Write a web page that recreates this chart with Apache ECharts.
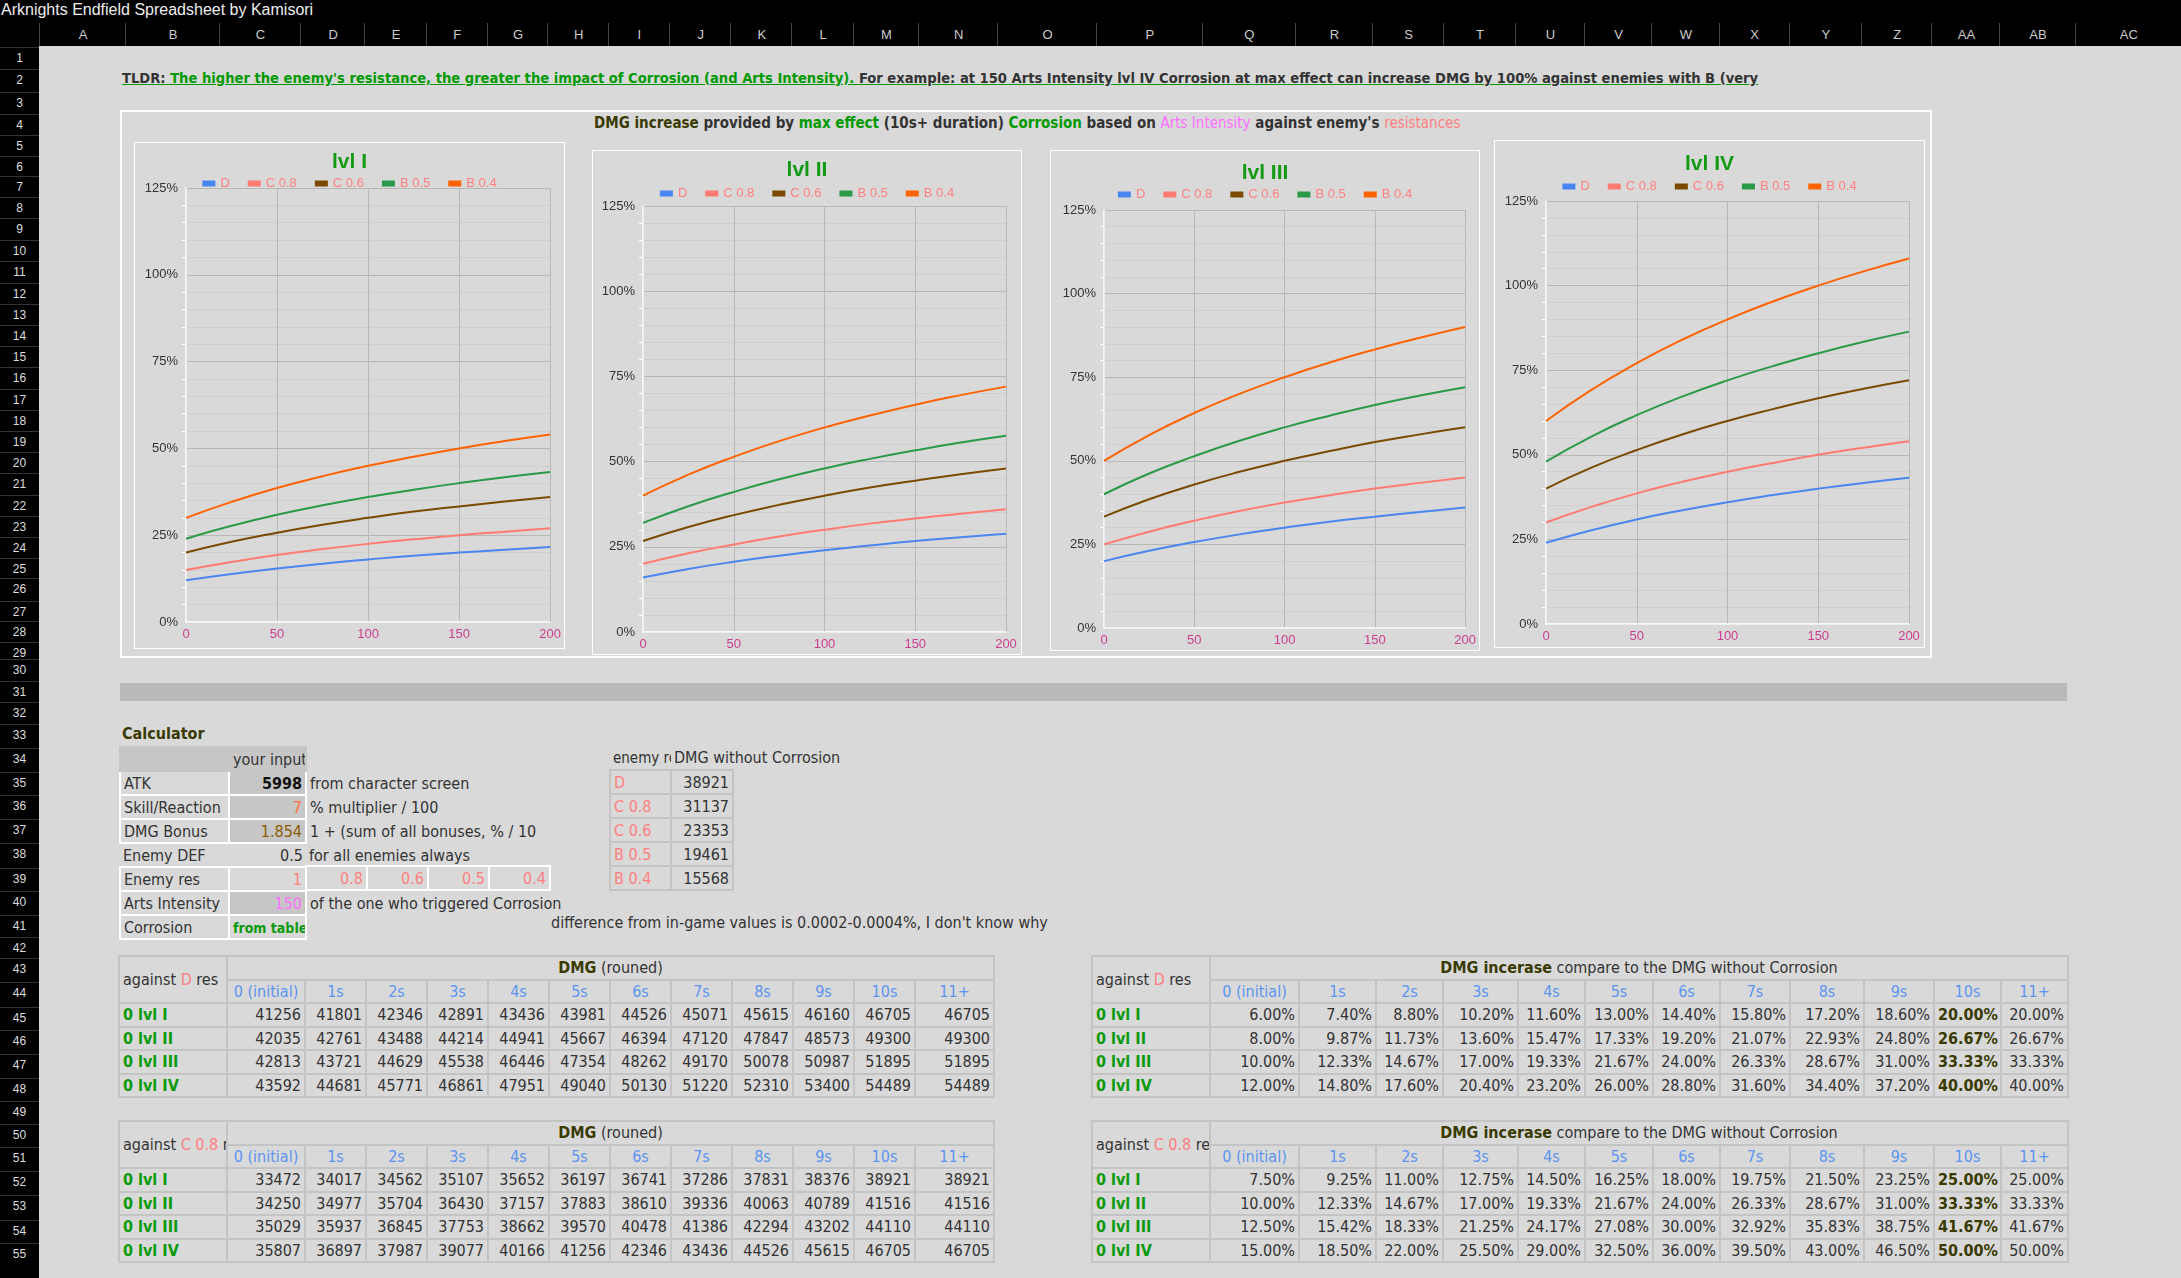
<!DOCTYPE html>
<html>
<head>
<meta charset="utf-8">
<script src="https://cdn.jsdelivr.net/npm/echarts@6/dist/echarts.min.js"></script>
<style>
  body { margin: 0; width: 2181px; height: 1278px; background: #d9d9d9; overflow: hidden;
         font-family: "DejaVu Sans Condensed", "DejaVu Sans", sans-serif; position: relative; }
  .abs { position: absolute; }
  #titlebar { left: 0; top: 0; width: 2181px; height: 23px; background: #000; color: #eee;
              font-family: "Liberation Sans", Arial, sans-serif; font-size: 16px; line-height: 20px; padding-left: 1px; }
  #colhead { left: 0; top: 23px; width: 2181px; height: 23px; background: #000; }
  .colL { position: absolute; top: 23px; height: 23px; line-height: 23px; color: #ccc; font-size: 13px;
          font-family: "Liberation Sans", Arial; text-align: center; border-left: 1px solid #444; }
  #rowhead { left: 0; top: 46px; width: 39px; height: 1232px; background: #000; }
  .rowN { position: absolute; left: 0; width: 39px; text-align: center; color: #ddd; font-size: 12px;
          font-family: "Liberation Sans", Arial; border-top: 1px solid #333; }
  .chartbox { position: absolute; border: 1px solid #fff; box-sizing: border-box; }
  #panel { left: 120px; top: 110px; width: 1812px; height: 548px; border: 2px solid #fff; box-sizing: border-box; }
  .txt { position: absolute; white-space: nowrap; font-size: 16px; color: #333; }
  table.grid { position: absolute; border-collapse: collapse; table-layout: fixed; font-size: 16px; color: #333; }
  table.grid td { border: 2px solid #c4c4c4; padding: 0 3px; height: 20px; overflow: hidden; white-space: nowrap; }
  .num { text-align: right; }
  .blue { color: #5b95f0; text-align: center; }
  .lbl { color: #0a9a0a; font-weight: bold; }
  .hl { color: #3a3a00; font-weight: bold; }
  .pink { color: #ff7f7f; }
</style>
</head>
<body>
<div id="titlebar" class="abs">Arknights Endfield Spreadsheet by Kamisori</div>
<div id="colhead" class="abs"></div>
<div id="rowhead" class="abs"></div>
<div id="panel" class="abs"></div>

<div class="txt" style="left:122px;top:69px;font-weight:bold;color:#009900;text-decoration:underline;font-size:14.6px">
  <span style="color:#333">TLDR:</span> The higher the enemy's resistance, the greater the impact of Corrosion (and Arts Intensity). <span style="color:#333">For example: at 150 Arts Intensity lvl IV Corrosion at max effect can increase DMG by 100% against enemies with B (very</span>
</div>
<div class="txt" style="left:594px;top:114px;font-weight:bold;font-size:15px">
  <span style="color:#3a3a00">DMG increase</span> provided by <span style="color:#009900">max effect</span> (10s+ duration) <span style="color:#009900">Corrosion</span> based on <span style="color:#ff70ff;font-weight:normal">Arts Intensity</span> against enemy's <span style="color:#ff8080;font-weight:normal">resistances</span>
</div>

<div class="abs" style="left:120px;top:683px;width:1947px;height:18px;background:#bababa"></div>
<div class="txt" style="left:122px;top:724px;font-weight:bold;color:#3a3a00">Calculator</div>
<div class="txt" style="left:551px;top:913px">difference from in-game values is 0.0002-0.0004%, I don't know why</div>

<div id="c1" class="chartbox" style="left:134px;top:142px;width:431px;height:507px"></div>
<div id="c2" class="chartbox" style="left:592px;top:150px;width:430px;height:505px"></div>
<div id="c3" class="chartbox" style="left:1050px;top:150px;width:430px;height:501px"></div>
<div id="c4" class="chartbox" style="left:1494px;top:140px;width:431px;height:508px"></div>

<script>
// ---- chart data (Arts Intensity on x, DMG increase % on y) ----
const artsIntensity = [0, 25, 50, 75, 100, 125, 150, 175, 200];
const resNames = ['D', 'C 0.8', 'C 0.6', 'B 0.5', 'B 0.4'];
const resColors = ['#4a86f0', '#ff7b72', '#7a4a00', '#2a9a48', '#ff6200'];

const lvl1 = [
  [12, 13.8, 15.4, 16.8, 18, 19.1, 20, 20.8, 21.6],
  [15, 17.3, 19.3, 21, 22.5, 23.8, 25, 26, 27],
  [20, 23.1, 25.7, 28, 30, 31.8, 33.3, 34.7, 36],
  [24, 27.7, 30.9, 33.6, 36, 38.1, 40, 41.7, 43.2],
  [30, 34.6, 38.6, 42, 45, 47.6, 50, 52.1, 54]
];
const lvl2 = [
  [16, 18.5, 20.6, 22.4, 24, 25.4, 26.7, 27.8, 28.8],
  [20, 23.1, 25.7, 28, 30, 31.8, 33.3, 34.7, 36],
  [26.7, 30.8, 34.3, 37.3, 40, 42.4, 44.4, 46.3, 48],
  [32, 36.9, 41.1, 44.8, 48, 50.8, 53.3, 55.6, 57.6],
  [40, 46.2, 51.4, 56, 60, 63.5, 66.7, 69.5, 72]
];
const lvl3 = [
  [20, 23.1, 25.7, 28, 30, 31.8, 33.3, 34.7, 36],
  [25, 28.8, 32.1, 35, 37.5, 39.7, 41.7, 43.4, 45],
  [33.3, 38.5, 42.9, 46.7, 50, 52.9, 55.6, 57.9, 60],
  [40, 46.2, 51.4, 56, 60, 63.5, 66.7, 69.5, 72],
  [50, 57.7, 64.3, 70, 75, 79.4, 83.3, 86.8, 90]
];
const lvl4 = [
  [24, 27.7, 30.9, 33.6, 36, 38.1, 40, 41.7, 43.2],
  [30, 34.6, 38.6, 42, 45, 47.6, 50, 52.1, 54],
  [40, 46.2, 51.4, 56, 60, 63.5, 66.7, 69.5, 72],
  [48, 55.4, 61.7, 67.2, 72, 76.2, 80, 83.4, 86.4],
  [60, 69.2, 77.1, 84, 90, 95.3, 100, 104.2, 108]
];

// ---- calculator / table data ----
const secLabels = ['0 (initial)', '1s', '2s', '3s', '4s', '5s', '6s', '7s', '8s', '9s', '10s', '11+'];
const lvlLabels = ['0 lvl I', '0 lvl II', '0 lvl III', '0 lvl IV'];
const dmgD = [
  [41256, 41801, 42346, 42891, 43436, 43981, 44526, 45071, 45615, 46160, 46705, 46705],
  [42035, 42761, 43488, 44214, 44941, 45667, 46394, 47120, 47847, 48573, 49300, 49300],
  [42813, 43721, 44629, 45538, 46446, 47354, 48262, 49170, 50078, 50987, 51895, 51895],
  [43592, 44681, 45771, 46861, 47951, 49040, 50130, 51220, 52310, 53400, 54489, 54489]
];
const dmgC8 = [
  [33472, 34017, 34562, 35107, 35652, 36197, 36741, 37286, 37831, 38376, 38921, 38921],
  [34250, 34977, 35704, 36430, 37157, 37883, 38610, 39336, 40063, 40789, 41516, 41516],
  [35029, 35937, 36845, 37753, 38662, 39570, 40478, 41386, 42294, 43202, 44110, 44110],
  [35807, 36897, 37987, 39077, 40166, 41256, 42346, 43436, 44526, 45615, 46705, 46705]
];
const incD = [
  ['6.00%', '7.40%', '8.80%', '10.20%', '11.60%', '13.00%', '14.40%', '15.80%', '17.20%', '18.60%', '20.00%', '20.00%'],
  ['8.00%', '9.87%', '11.73%', '13.60%', '15.47%', '17.33%', '19.20%', '21.07%', '22.93%', '24.80%', '26.67%', '26.67%'],
  ['10.00%', '12.33%', '14.67%', '17.00%', '19.33%', '21.67%', '24.00%', '26.33%', '28.67%', '31.00%', '33.33%', '33.33%'],
  ['12.00%', '14.80%', '17.60%', '20.40%', '23.20%', '26.00%', '28.80%', '31.60%', '34.40%', '37.20%', '40.00%', '40.00%']
];
const incC8 = [
  ['7.50%', '9.25%', '11.00%', '12.75%', '14.50%', '16.25%', '18.00%', '19.75%', '21.50%', '23.25%', '25.00%', '25.00%'],
  ['10.00%', '12.33%', '14.67%', '17.00%', '19.33%', '21.67%', '24.00%', '26.33%', '28.67%', '31.00%', '33.33%', '33.33%'],
  ['12.50%', '15.42%', '18.33%', '21.25%', '24.17%', '27.08%', '30.00%', '32.92%', '35.83%', '38.75%', '41.67%', '41.67%'],
  ['15.00%', '18.50%', '22.00%', '25.50%', '29.00%', '32.50%', '36.00%', '39.50%', '43.00%', '46.50%', '50.00%', '50.00%']
];
const enemyRes = ['D', 'C 0.8', 'C 0.6', 'B 0.5', 'B 0.4'];
const dmgNoCorrosion = [38921, 31137, 23353, 19461, 15568];

// ---- spreadsheet frame ----
const colLetters = ['A','B','C','D','E','F','G','H','I','J','K','L','M','N','O','P','Q','R','S','T','U','V','W','X','Y','Z','AA','AB','AC'];
const colCenters = [56,124,191,240,284,328,372,415,459,503,547,591,635,685,749,827,901,961,1012,1063,1115,1163,1211,1260,1312,1364,1413,1462,1521];
const rowCenters = [41,57,73,89,104,119,134,149,164,180,195,211,226,241,256,271,287,302,317,332,347,363,378,393,408,423,439,454,469,481,497,512,528,545,562,579,596,613,631,648,665,681,696,713,731,748,765,782,799,815,832,849,866,884,901];
const S = 2181 / 1568;

colLetters.forEach((c, i) => {
  const l = i === 0 ? 39 : (colCenters[i - 1] + colCenters[i]) / 2 * S;
  const r = i === colLetters.length - 1 ? 2181 : (colCenters[i] + colCenters[i + 1]) / 2 * S;
  const d = document.createElement('div');
  d.className = 'colL';
  d.style.left = l + 'px'; d.style.width = (r - l) + 'px';
  d.textContent = c;
  document.body.appendChild(d);
});
rowCenters.forEach((c, i) => {
  const d = document.createElement('div');
  d.className = 'rowN';
  d.style.top = (c * S - 10) + 'px'; d.style.height = '21px'; d.style.lineHeight = '21px';
  d.textContent = i + 1;
  document.body.appendChild(d);
});

function makeTable(left, top, colW, rowH, rows) {
  const t = document.createElement('table');
  t.className = 'grid';
  t.style.left = left + 'px'; t.style.top = top + 'px';
  const cg = document.createElement('colgroup');
  colW.forEach(w => { const c = document.createElement('col'); c.style.width = w + 'px'; cg.appendChild(c); });
  t.appendChild(cg);
  rows.forEach(r => {
    const tr = document.createElement('tr');
    r.forEach(cell => {
      if (!cell) return;
      const td = document.createElement('td');
      td.innerHTML = cell.h;
      if (cell.c) td.className = cell.c;
      if (cell.s) td.setAttribute('style', cell.s);
      if (cell.cs) td.colSpan = cell.cs;
      if (cell.rs) td.rowSpan = cell.rs;
      tr.appendChild(td);
    });
    tr.style.height = rowH + 'px';
    t.appendChild(tr);
  });
  t.style.width = colW.reduce((a, b) => a + b, 0) + 'px';
  document.body.appendChild(t);
}

// calculator block
const calcRows = [
  [{ h: '', s: 'background:#c6c6c6;border-color:#c6c6c6' }, { h: 'your input', c: 'num', s: 'background:#c6c6c6;border-color:#c6c6c6' }, { h: '', s: 'border:none' }],
  [{ h: 'ATK', s: 'border-color:#fff' }, { h: '<b style="color:#111">5998</b>', c: 'num', s: 'background:#c6c6c6;border-color:#fff' }, { h: 'from character screen', s: 'border:none' }],
  [{ h: 'Skill/Reaction', s: 'border-color:#fff' }, { h: '<span style="color:#ff7040">7</span>', c: 'num', s: 'background:#c6c6c6;border-color:#fff' }, { h: '% multiplier / 100', s: 'border:none' }],
  [{ h: 'DMG Bonus', s: 'border-color:#fff' }, { h: '<span style="color:#8a5a00">1.854</span>', c: 'num', s: 'background:#c6c6c6;border-color:#fff' }, { h: '1 + (sum of all bonuses, % / 10', s: 'border:none' }],
  [{ h: 'Enemy DEF', s: 'border:none' }, { h: '0.5', c: 'num', s: 'border:none' }, { h: 'for all enemies always', s: 'border:none' }],
  [{ h: 'Enemy res', s: 'border-color:#fff' }, { h: '<span class="pink">1</span>', c: 'num', s: 'border-color:#fff' }, { h: '', s: 'border:none' }],
  [{ h: 'Arts Intensity', s: 'border-color:#fff' }, { h: '<span style="color:#ff70ff">150</span>', c: 'num', s: 'background:#c6c6c6;border-color:#fff' }, { h: 'of the one who triggered Corrosion', s: 'border:none' }],
  [{ h: 'Corrosion', s: 'border-color:#fff' }, { h: '<b style="color:#0a9a0a;font-size:14px">from table</b>', c: 'num', s: 'border-color:#fff' }, { h: '', s: 'border:none' }]
];
makeTable(119, 746, [109, 77, 330], 24, calcRows);
makeTable(305, 865, [61, 61, 61, 61], 24, [
  ['0.8', '0.6', '0.5', '0.4'].map(v => ({ h: '<span class="pink">' + v + '</span>', c: 'num', s: 'border-color:#fff' }))
]);

// enemy res table
const resRows = [[{ h: 'enemy res', s: 'border:none;font-size:15px' }, { h: 'DMG without Corrosion', s: 'border:none;overflow:visible' }]];
enemyRes.forEach((r, i) => resRows.push([{ h: '<span class="pink">' + r + '</span>' }, { h: dmgNoCorrosion[i], c: 'num' }]));
makeTable(609, 746, [61, 62], 24, resRows);

function bigTable(left, top, colW, resLabel, header, values, highlight) {
  const rows = [];
  rows.push([{ h: 'against <span class="pink">' + resLabel + '</span> res', rs: 2, s: 'vertical-align:middle' },
             { h: header, cs: 12, s: 'text-align:center' }]);
  rows.push(secLabels.map(s => ({ h: s, c: 'blue' })));
  values.forEach((vals, i) => {
    const r = [{ h: lvlLabels[i], c: 'lbl' }];
    vals.forEach((v, j) => r.push({ h: v, c: 'num' + (highlight && j === 10 ? ' hl' : '') }));
    rows.push(r);
  });
  makeTable(left, top, colW, 23.5, rows);
}
const leftW = [108, 78, 61, 61, 61, 61, 61, 61, 61, 61, 61, 61, 79];
const rightW = [118, 89, 77, 67, 75, 67, 68, 67, 70, 74, 70, 67, 67];
const hdrDmg = '<b style="color:#3a3a00">DMG</b> (rouned)';
const hdrInc = '<b style="color:#3a3a00">DMG incerase</b> compare to the DMG without Corrosion';
bigTable(118, 955, leftW, 'D', hdrDmg, dmgD, false);
bigTable(118, 1120, leftW, 'C 0.8', hdrDmg, dmgC8, false);
bigTable(1091, 955, rightW, 'D', hdrInc, incD, true);
bigTable(1091, 1120, rightW, 'C 0.8', hdrInc, incC8, true);

// ---- charts ----
const charts = [
  { id: 'c1', title: 'lvl I', data: lvl1, grid: { left: 51, right: 13, top: 45, bottom: 26 }, tTop: 4, lTop: 29 },
  { id: 'c2', title: 'lvl II', data: lvl2, grid: { left: 50, right: 15, top: 55, bottom: 22 }, tTop: 4, lTop: 31 },
  { id: 'c3', title: 'lvl III', data: lvl3, grid: { left: 53, right: 12, top: 59, bottom: 22 }, tTop: 7, lTop: 32 },
  { id: 'c4', title: 'lvl IV', data: lvl4, grid: { left: 51, right: 15, top: 60, bottom: 23 }, tTop: 8, lTop: 34 }
];
const narrow = '"Liberation Sans Narrow", "Liberation Sans", Arial, sans-serif';

charts.forEach(cfg => {
  const chart = echarts.init(document.getElementById(cfg.id));
  chart.setOption({
    animation: false,
    backgroundColor: '#d9d9d9',
    title: { text: cfg.title, left: 'center', top: cfg.tTop,
             textStyle: { color: '#129a12', fontSize: 21, fontWeight: 'bold', fontFamily: narrow } },
    legend: { top: cfg.lTop, left: 'center', itemWidth: 13, itemHeight: 6, itemGap: 18, icon: 'rect',
              textStyle: { color: '#ff8080', fontSize: 13, fontFamily: narrow } },
    grid: cfg.grid,
    xAxis: { type: 'value', min: 0, max: 200, interval: 50,
             axisLine: { lineStyle: { color: '#fff', width: 1.5 } }, axisTick: { show: false },
             axisLabel: { color: '#cc3d8f', fontSize: 13, fontFamily: narrow, margin: 6 },
             splitLine: { lineStyle: { color: '#b8b8b8' } } },
    yAxis: { type: 'value', min: 0, max: 125, interval: 25,
             axisLine: { show: true, lineStyle: { color: '#fff', width: 1.5 } },
             axisTick: { show: false },
             minorTick: { show: true, splitNumber: 5, length: 4, lineStyle: { color: '#fff' } },
             minorSplitLine: { show: true, lineStyle: { color: '#cfcfcf' } },
             axisLabel: { color: '#333', fontSize: 13, fontFamily: narrow, formatter: '{value}%' },
             splitLine: { lineStyle: { color: '#b8b8b8' } } },
    series: resNames.map((name, i) => ({
      name, type: 'line', smooth: true, showSymbol: false,
      lineStyle: { width: 2, color: resColors[i] }, itemStyle: { color: resColors[i] },
      data: artsIntensity.map((x, j) => [x, cfg.data[i][j]])
    }))
  });
});
</script>
</body>
</html>
